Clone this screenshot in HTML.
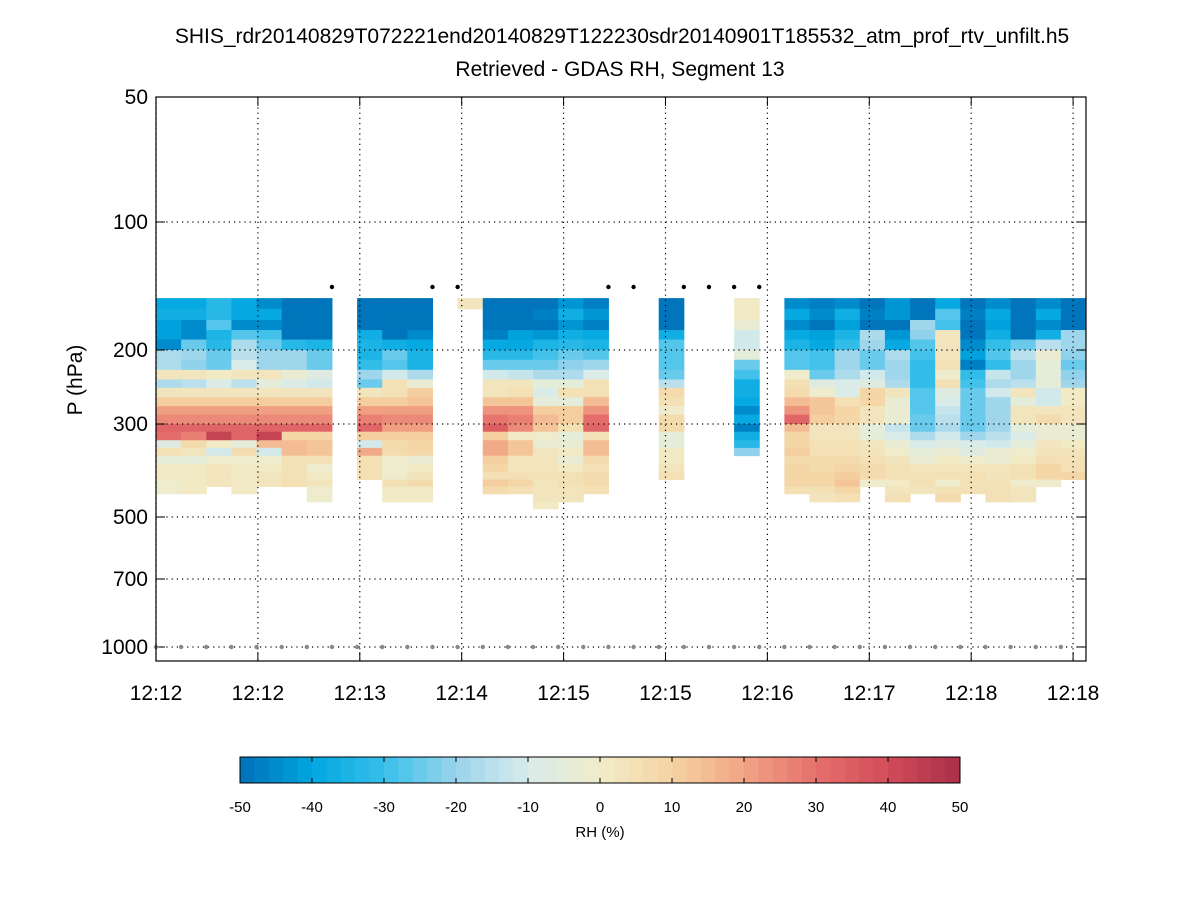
<!DOCTYPE html>
<html><head><meta charset="utf-8"><style>
body{margin:0;background:#fff;}
svg text{font-family:"Liberation Sans",sans-serif;}
</style></head><body>
<svg id="chart" width="1200" height="900" viewBox="0 0 1200 900">
<text x="622" y="43" font-size="21" text-anchor="middle">SHIS_rdr20140829T072221end20140829T122230sdr20140901T185532_atm_prof_rtv_unfilt.h5</text>
<text x="620" y="76" font-size="21" text-anchor="middle">Retrieved - GDAS RH, Segment 13</text>
<text transform="translate(82,380) rotate(-90)" font-size="21" text-anchor="middle">P (hPa)</text>
<g id="cells"></g><g id="grid"></g><g id="axes"></g><g id="cbar"></g>
</svg>
<script>
const xTickLabels=["12:12","12:12","12:13","12:14","12:15","12:15","12:16","12:17","12:18","12:18"];
const yTicks=[50,100,200,300,500,700,1000];
const pEdges=[151,160,170,179.5,189,200,211,223,235,246,259,272,285,300,313,328,342,357,373,390,407,423,440,460,478];
const flagCols=[7,11,12,18,19,21,22,23,24];
const col00=[-40,-38,-42,-42,-45,-18,-18,3,-17,3,10,20,25,33,30,-8,5,-5,0,0,-1,-1];
const col01=[-40,-38,-45,-45,-25,-20,-22,3,-15,3,10,20,25,33,27,6,2,-5,0,0,0,0];
const col02=[-33,-33,-28,-35,-33,-25,-25,0,-10,3,10,20,25,33,42,0,-12,-2,2,2,3];
const col03=[-40,-40,-45,-28,-18,-15,-10,2,-15,3,10,20,25,33,32,-5,7,-2,0,0,0,0];
const col04=[-45,-40,-45,-30,-25,-20,-20,3,-5,3,10,20,25,33,42,15,-12,-2,0,2,3];
const col05=[-50,-50,-50,-50,-33,-20,-20,-3,-10,3,10,20,25,33,8,15,15,4,4,5,5];
const col06=[-50,-50,-50,-50,-35,-25,-25,-7,-12,3,10,20,25,33,8,13,13,5,-2,0,3,-1,-1];
const col07=[];
const col08=[-50,-50,-50,-38,-35,-35,-32,-20,-25,3,10,20,27,33,10,-12,18,5,5,5];
const col09=[-50,-50,-50,-50,-38,-25,-28,-12,5,5,10,20,25,20,10,7,7,-2,-1,-1,5,0,0];
const col10=[-50,-50,-50,-45,-40,-35,-35,-18,-3,10,12,20,25,20,10,8,8,-3,1,3,6,0,0];
const col11=[];
const col12=[2];
const col13=[-50,-50,-50,-48,-40,-33,-25,-12,3,3,12,22,28,35,10,18,18,10,8,5,10,6];
const col14=[-50,-50,-50,-42,-40,-33,-25,-14,3,5,12,22,27,25,0,12,12,2,3,5,8,5];
const col15=[-50,-48,-50,-43,-35,-30,-25,-18,-5,-10,-5,10,14,12,-2,-3,2,2,3,4,3,3,2,1];
const col16=[-43,-38,-43,-38,-33,-25,-22,-18,-5,5,-5,10,10,5,-5,-3,0,-3,0,5,5,2,2];
const col17=[-48,-43,-47,-40,-35,-28,-20,-10,5,5,15,22,30,32,5,15,15,6,4,6,6,4];
const col18=[];
const col19=[];
const col20=[-50,-50,-50,-38,-27,-28,-28,-25,-15,7,4,-1,6,6,-5,-5,0,0,3,5];
const col21=[];
const col22=[];
const col23=[1,1,-4,-12,-12,-5,-25,-30,-38,-38,-40,-45,-40,-48,-38,-33,-22];
const col24=[];
const col25=[-45,-40,-45,-40,-35,-27,-27,-2,5,7,15,22,32,15,8,8,10,7,8,8,8,5];
const col26=[-47,-45,-50,-42,-40,-30,-30,-25,-8,-2,13,12,10,2,2,5,5,6,7,8,8,4,3];
const col27=[-45,-38,-42,-35,-32,-20,-20,-17,-10,-10,4,8,8,2,2,5,5,6,8,10,12,8,5];
const col28=[-50,-48,-50,-17,-20,-25,-25,-12,-8,8,8,2,2,-5,-5,2,2,4,6,7,-1];
const col29=[-43,-43,-50,-43,-40,-17,-20,-20,-18,3,-3,-3,-3,-13,-10,-3,-1,2,4,4,0,2,4];
const col30=[-50,-50,-20,-22,-28,-30,-32,-32,-32,-28,-27,-27,-25,-25,-18,-10,-6,-3,3,5,5,2];
const col31=[-40,-27,-30,2,2,2,4,-2,5,-7,-10,-13,-15,-18,-12,-7,-3,0,2,4,-2,4,7];
const col32=[-50,-48,-50,-50,-45,-42,-48,-32,-30,-25,-25,-25,-25,-25,-20,-10,-7,-2,2,4,5,5];
const col33=[-45,-40,-42,-38,-32,-27,-32,-13,-18,-12,-20,-20,-20,-20,-15,-12,-3,-3,2,3,5,5,5];
const col34=[-50,-50,-50,-50,-25,-15,-20,-20,-15,3,-5,2,2,-5,-10,-5,-2,0,4,4,-1,3,3];
const col35=[-45,-40,-45,-38,-15,-3,-5,-5,-5,-12,-12,2,6,-3,-3,2,3,5,8,8,-1];
const col36=[-50,-50,-50,-20,-20,-22,-25,-22,-20,0,0,2,2,-3,-3,0,3,5,5,8];
const columns=[col00,col01,col02,col03,col04,col05,col06,col07,col08,col09,col10,col11,col12,col13,col14,col15,col16,col17,col18,col19,col20,col21,col22,col23,col24,col25,col26,col27,col28,col29,col30,col31,col32,col33,col34,col35,col36];
const cbTicks=[-50,-40,-30,-20,-10,0,10,20,30,40,50];

const NS="http://www.w3.org/2000/svg";
const X0=156,X1=1086,Y0=97,Y1=661,NCOL=37;
const TICK_STEP=4.054;
function xScale(i){return X0+i*(X1-X0)/NCOL;}
const yAnchorP=[50,100,200,300,500,700,1000],yAnchorPx=[97,222,350,424,517,579,647];
function yScale(p){const lp=Math.log10(p);
 for(let k=0;k<yAnchorP.length-1;k++){const a=Math.log10(yAnchorP[k]),b=Math.log10(yAnchorP[k+1]);
  if(lp<=b||k===yAnchorP.length-2){return yAnchorPx[k]+(lp-a)/(b-a)*(yAnchorPx[k+1]-yAnchorPx[k]);}}}
const stops=[[-50,[0,112,184]],[-40,[0,166,224]],[-30,[56,192,234]],[-20,[154,212,236]],[-10,[216,235,236]],[0,[240,236,200]],[10,[245,211,162]],[20,[242,164,133]],[30,[230,112,108]],[40,[210,76,88]],[50,[168,48,74]]];
function cmap(v){v=Math.max(-50,Math.min(50,v));v=Math.floor((v+50)/2)*2-50+1;
 for(let k=0;k<stops.length-1;k++){if(v<=stops[k+1][0]){const t=(v-stops[k][0])/10,a=stops[k][1],b=stops[k+1][1];
  return "rgb("+a.map((c,j)=>Math.round(c+(b[j]-c)*t)).join(",")+")";}}return "rgb(168,48,74)";}
function mk(tag,at,parent){const e=document.createElementNS(NS,tag);for(const k in at)e.setAttribute(k,at[k]);parent.appendChild(e);return e;}

const cells=document.getElementById('cells');
columns.forEach((col,i)=>{col.forEach((v,r)=>{if(v===null||v===undefined)return;
 const y1=yScale(pEdges[r]),y2=yScale(pEdges[r+1]);
 const el=mk('rect',{x:xScale(i),y:y1,width:xScale(i+1)-xScale(i)+0.5,height:y2-y1+0.5,fill:cmap(v)},cells);
 
 });});

const grid=document.getElementById('grid');
const axes=document.getElementById('axes');
xTickLabels.forEach((lab,k)=>{const x=xScale(k*TICK_STEP);
 const g=mk('line',{x1:x,x2:x,y1:Y0,y2:Y1,stroke:'#000','stroke-width':1.2,'stroke-dasharray':'1.2 4'},grid);
 
 
 mk('line',{x1:x,x2:x,y1:Y1,y2:Y1-9,stroke:'#000'},axes);
 mk('line',{x1:x,x2:x,y1:Y0,y2:Y0+9,stroke:'#000'},axes);
 const t=mk('text',{x:x,y:700,'font-size':21,'text-anchor':'middle'},axes);t.textContent=lab;
 
 });
yTicks.forEach(p=>{const y=yScale(p);
 if(p!==50){const g=mk('line',{x1:X0,x2:X1,y1:y,y2:y,stroke:'#000','stroke-width':1.2,'stroke-dasharray':'1.2 4'},grid);
 
 }
 mk('line',{x1:X0,x2:X0+9,y1:y,y2:y,stroke:'#000'},axes);
 mk('line',{x1:X1,x2:X1-9,y1:y,y2:y,stroke:'#000'},axes);
 const t=mk('text',{x:148,y:y+7,'font-size':21,'text-anchor':'end'},axes);t.textContent=p;
 
 });
for(let i=0;i<NCOL;i++){const d=mk('circle',{cx:xScale(i),cy:647,r:2.2,fill:'#888'},axes);
 
 }
flagCols.forEach(i=>{const d=mk('circle',{cx:xScale(i),cy:287,r:2.2,fill:'#000'},axes);
 
 });
const box=mk('rect',{x:X0,y:Y0,width:X1-X0,height:Y1-Y0,fill:'none',stroke:'#000','stroke-width':1.2},axes);



const cb=document.getElementById('cbar');
const CB0=240,CB1=960,CBY=757,CBH=26;
function cbx(v){return CB0+(v+50)/100*(CB1-CB0);}
for(let v=-50;v<50;v+=2){const r=mk('rect',{x:cbx(v),y:CBY,width:(CB1-CB0)/50+0.5,height:CBH,fill:cmap(v)},cb);
 
 }
const cbf=mk('rect',{x:CB0,y:CBY,width:CB1-CB0,height:CBH,fill:'none',stroke:'#000','stroke-width':1},cb);


cbTicks.forEach(v=>{const x=cbx(v);
 mk('line',{x1:x,x2:x,y1:CBY,y2:CBY+5,stroke:'#000'},cb);
 mk('line',{x1:x,x2:x,y1:CBY+CBH,y2:CBY+CBH-5,stroke:'#000'},cb);
 const t=mk('text',{x:x,y:812,'font-size':15,'text-anchor':'middle'},cb);t.textContent=v;
 
 });
const cbt=mk('text',{x:600,y:837,'font-size':15,'text-anchor':'middle'},cb);cbt.textContent='RH (%)';


</script>
</body></html>
